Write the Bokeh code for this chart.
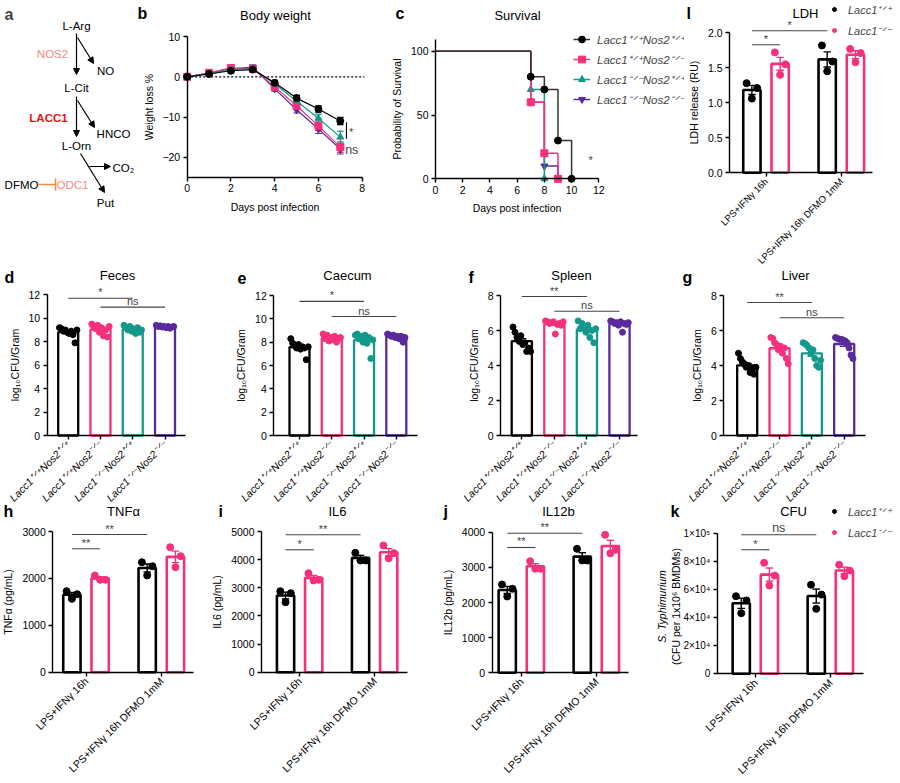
import math
import numpy as np
from bokeh.plotting import figure
from bokeh.layouts import row, column
from bokeh.models import (Range1d, FixedTicker, Label, Arrow, NormalHead, TeeHead,
                          Legend, LegendItem, NumeralTickFormatter)
from bokeh.core.properties import value
from bokeh.embed import file_html
from bokeh.resources import INLINE

# ------------------------------------------------------------------ data
SP = "\u207a\u141f\u207a"   # superscript +/+
SM = "\u207b\u141f\u207b"   # superscript -/-
genotypes = ["Lacc1" + SP + "Nos2" + SP, "Lacc1" + SP + "Nos2" + SM,
             "Lacc1" + SM + "Nos2" + SP, "Lacc1" + SM + "Nos2" + SM]
lacc1_genotypes = ["Lacc1" + SP, "Lacc1" + SM]
treatments = ["LPS+IFN\u03b3 16h", "LPS+IFN\u03b3 16h DFMO 1mM"]

# b: body weight
days = [0, 1, 2, 3, 4, 5, 6, 7]
weight_wt = [0, 0.7, 1.5, 1.8, -1.5, -5.3, -8.0, -11.0]
weight_nos2 = [0, 1.0, 2.2, 2.0, -2.5, -7.2, -12.2, -17.5]
weight_lacc1 = [0, 0.8, 1.8, 2.0, -1.8, -6.0, -10.3, -15.0]
weight_dko = [0, 0.9, 2.0, 2.4, -3.0, -8.2, -13.0, -18.0]
weight_wt_sem = [0, 0.3, 0.5, 0.5, 0.6, 0.7, 0.8, 0.9]
weight_nos2_sem = [0, 0.3, 0.5, 0.5, 0.7, 0.9, 1.2, 1.3]
weight_lacc1_sem = [0, 0.3, 0.4, 0.4, 0.6, 0.8, 1.0, 1.5]
weight_dko_sem = [0, 0.3, 0.4, 0.5, 0.6, 0.8, 1.1, 1.2]

# c: survival
surv_days_wt = [0, 7, 8, 9, 10]
surv_wt = [100, 80, 70, 30, 0]
surv_days_nos2 = [0, 7, 8, 9]
surv_nos2 = [100, 60, 20, 0]
surv_days_lacc1 = [0, 7, 8]
surv_lacc1 = [100, 70, 0]
surv_days_dko = [0, 7, 8, 9]
surv_dko = [100, 60, 10, 0]

# d-g: log10 CFU / gram
feces_wt = [9.2, 9.1, 8.9, 9.0, 8.8, 8.7, 8.9, 8.6, 7.9, 9.0]
feces_nos2 = [9.5, 9.3, 9.1, 9.4, 8.8, 9.2, 8.5, 9.0, 8.4, 9.3]
feces_lacc1 = [9.4, 9.2, 9.0, 9.3, 8.9, 9.1, 8.7, 9.2, 8.8, 9.0]
feces_dko = [9.4, 9.3, 9.35, 9.25, 9.3, 9.2, 9.3, 9.15, 9.25, 9.3]
caecum_wt = [8.3, 7.9, 7.7, 7.5, 7.8, 7.4, 7.6, 7.5, 6.5, 7.6]
caecum_nos2 = [8.7, 8.3, 8.6, 8.1, 8.4, 8.2, 8.5, 8.0, 8.3, 8.4]
caecum_lacc1 = [8.6, 8.7, 8.3, 8.5, 8.0, 8.6, 7.9, 8.4, 6.6, 8.2]
caecum_dko = [8.7, 8.6, 8.5, 8.6, 8.4, 8.5, 8.3, 8.5, 8.0, 8.4]
spleen_wt = [6.2, 5.9, 5.6, 5.4, 5.7, 5.2, 5.3, 4.8, 5.0, 4.8]
spleen_nos2 = [6.55, 6.5, 6.4, 6.45, 6.5, 5.8, 6.35, 6.4, 6.3, 6.5]
spleen_lacc1 = [6.55, 6.1, 6.4, 6.2, 5.9, 6.3, 5.6, 6.0, 5.3, 6.1]
spleen_dko = [6.55, 6.5, 6.4, 6.45, 6.3, 6.5, 5.9, 6.4, 6.35, 6.45]
liver_wt = [4.7, 4.4, 4.2, 4.1, 3.9, 4.0, 3.6, 3.8, 3.5, 3.9]
liver_nos2 = [5.6, 5.55, 5.3, 5.2, 4.9, 5.1, 4.7, 5.0, 4.4, 4.1]
liver_lacc1 = [5.3, 5.25, 5.15, 5.0, 4.7, 4.9, 4.4, 4.0, 3.9, 4.3]
liver_dko = [5.6, 5.55, 5.5, 5.5, 5.45, 5.4, 5.3, 5.0, 4.6, 4.4]

# h-l: BMDM read-outs (per treatment, 3 replicates)
tnfa_wt = [[1727, 1663, 1565], [2345, 2260, 2062]]
tnfa_ko = [[2062, 1970, 1970], [2665, 2473, 2239]]
il6_wt = [[2878, 2807, 2488], [4243, 3970, 3970]]
il6_ko = [[3518, 3283, 3259], [4503, 4230, 4050]]
il12b_wt = [[2512, 2390, 2171], [3528, 3195, 3195]]
il12b_ko = [[3175, 2959, 2959], [3926, 3500, 3400]]
cfu_wt = [[55400, 52400, 43300], [63600, 56600, 46400]]
cfu_ko = [[79300, 70200, 63100], [77900, 73800, 69700]]
ldh_wt = [[1.28, 1.21, 1.06], [1.82, 1.59, 1.45]]
ldh_ko = [[1.72, 1.55, 1.40], [1.77, 1.71, 1.58]]

# significance annotations: (group a, group b, height, text)
sig_b = ["*", "ns"]
sig_feces = [(0, 2, 11.7, "*"), (1, 3, 10.95, "ns")]
sig_caecum = [(0, 2, 11.5, "*"), (1, 3, 10.2, "ns")]
sig_spleen = [(0, 2, 7.94, "**"), (1, 3, 7.1, "ns")]
sig_liver = [(0, 2, 7.6, "**"), (1, 3, 6.73, "ns")]
sig_tnfa = [("wt0", "wt1", 2936, "**"), ("wt0", "ko0", 2631, "**")]
sig_il6 = [("wt0", "wt1", 4883, "**"), ("wt0", "ko0", 4350, "*")]
sig_il12b = [("wt0", "wt1", 3972, "**"), ("wt0", "ko0", 3565, "**")]
sig_cfu = [("wt0", "wt1", 99300, "ns"), ("wt0", "ko0", 88600, "*")]
sig_ldh = [("wt0", "wt1", 2.03, "*"), ("wt0", "ko0", 1.83, "*")]
surv_sig = (11.4, 15, "*")

cfu_tick_labels = {0: "0", 20000: "2\u00d710\u2074", 40000: "4\u00d710\u2074",
                   60000: "6\u00d710\u2074", 80000: "8\u00d710\u2074", 100000: "1\u00d710\u2075"}

# ------------------------------------------------------------------ style
FONT = "Liberation Sans"
BLACK = "#000000"
PINK = "#F5307C"
TEAL = "#13998C"
PURPLE = "#5A2A9C"
COLORS4 = [BLACK, PINK, TEAL, PURPLE]
MARKERS4 = ["circle", "square", "triangle", "inverted_triangle"]
SALMON = "#F48A82"
RED = "#EE1111"
ORANGE = "#F08C3C"
SIGC = "#444444"


def style_axis(ax):
    ax.axis_line_width = 1.4
    ax.axis_line_color = "black"
    ax.major_tick_line_width = 1.4
    ax.major_tick_line_color = "black"
    ax.major_tick_out = 4
    ax.major_tick_in = 0
    ax.minor_tick_line_color = None
    ax.major_label_text_font = FONT
    ax.major_label_text_font_size = "10.5px"
    ax.major_label_text_color = "black"
    ax.major_label_standoff = 3
    ax.axis_label_text_font = FONT
    ax.axis_label_text_font_size = "10.5px"
    ax.axis_label_text_font_style = "normal"
    ax.axis_label_text_color = "black"
    ax.axis_label_standoff = 5


def lin(pa, va, pb, vb):
    s = (vb - va) / (pb - pa)
    return lambda px: va + (px - pa) * s


class Panel:
    """A figure whose frame fills its whole box; data <-> page pixels via two anchors."""

    def __init__(self, box, xa, ya):
        L, T, W, H = box
        self.L, self.T, self.W, self.H = box
        self.xv = lin(*xa)
        self.yv = lin(*ya)
        p = figure(width=W, height=H,
                   x_range=Range1d(self.xv(L), self.xv(L + W)),
                   y_range=Range1d(self.yv(T + H), self.yv(T)),
                   output_backend="svg", toolbar_location=None, min_border=0)
        p.outline_line_color = None
        p.xgrid.visible = False
        p.ygrid.visible = False
        for ax in p.axis:
            style_axis(ax)
        self.p = p

    def axes(self, x_at, y_at, xb, yb):
        """x axis line at data y = x_at, y axis line at data x = y_at."""
        self.p.xaxis.fixed_location = x_at
        self.p.yaxis.fixed_location = y_at
        self.p.xaxis.bounds = xb
        self.p.yaxis.bounds = yb

    def label(self, px, py, text, size, style="normal", align="center", color="black",
              baseline="middle", angle=0):
        self.p.add_layout(Label(x=px - self.L, y=self.T + self.H - py, x_units="screen",
                                y_units="screen", text=text, text_font=FONT,
                                text_font_size=size, text_font_style=style,
                                text_align=align, text_color=color,
                                text_baseline=baseline, angle=angle, angle_units="deg"))

    def legend(self, items, px, py_bottom, font_size="12px", **kw):
        leg = Legend(items=items, location=(px - self.L, self.T + self.H - py_bottom),
                     orientation="vertical", label_text_font=FONT,
                     label_text_font_size=font_size, label_text_font_style="italic",
                     padding=0, margin=0, border_line_color=None,
                     background_fill_alpha=0, **kw)
        self.p.add_layout(leg)


def sig_line(p, x0, x1, y, text, size="11px"):
    p.segment(x0=[x0], y0=[y], x1=[x1], y1=[y], line_color=SIGC, line_width=1.1)
    p.add_layout(Label(x=(x0 + x1) / 2, y=y, text=text, text_align="center",
                       text_baseline="bottom", text_font=FONT, text_font_size=size))


# boxes: page-left, page-top, width, height
R1, R2, R3 = (0, 268), (268, 236), (504, 279)
B_A = (0, R1[0], 134, R1[1])
B_B = (134, R1[0], 251, R1[1])
B_C = (385, R1[0], 299, R1[1])
B_L = (684, R1[0], 216, R1[1])
B_D = (0, R2[0], 230, R2[1])
B_E = (230, R2[0], 226, R2[1])
B_F = (456, R2[0], 222, R2[1])
B_G = (678, R2[0], 222, R2[1])
B_H = (0, R3[0], 209, R3[1])
B_I = (209, R3[0], 228, R3[1])
B_J = (437, R3[0], 208, R3[1])
B_K = (645, R3[0], 255, R3[1])

# ------------------------------------------------------------------ panel a
pa = figure(width=B_A[2], height=B_A[3], x_range=Range1d(0, B_A[2]), y_range=Range1d(B_A[3], 0),
            output_backend="svg", toolbar_location=None, x_axis_location=None,
            y_axis_location=None, min_border=0)
pa.outline_line_color = None
pa.grid.visible = False
TXT = dict(text_font=value(FONT), text_font_size="11.5px", text_baseline="middle")
pa.text(x=[76, 76, 76], y=[25, 87, 145], text=["L-Arg", "L-Cit", "L-Orn"], text_align="center", **TXT)
pa.text(x=[105, 113, 105, 21], y=[70, 133, 202, 184], text=["NO", "HNCO", "Put", "DFMO"],
        text_align="center", **TXT)
pa.text(x=[112], y=[167], text=["CO\u2082"], text_align="left", **TXT)
pa.text(x=[52, 72], y=[53, 184], text=["NOS2", "ODC1"], text_color=SALMON, text_align="center", **TXT)
pa.text(x=[48], y=[117], text=["LACC1"], text_color=RED, text_font_style="bold",
        text_align="center", **TXT)
for (xs, ys, xe, ye) in [(76, 33, 76, 74), (77, 37, 93, 63), (76, 96, 76, 136),
                         (77, 100, 94, 127), (80, 153, 104, 192), (89, 166, 110, 166)]:
    pa.add_layout(Arrow(end=NormalHead(size=6, fill_color="black", line_color="black"),
                        x_start=xs, y_start=ys, x_end=xe, y_end=ye,
                        line_color="black", line_width=1.2))
pa.add_layout(Arrow(end=TeeHead(size=12, line_color=ORANGE, line_width=1.6),
                    x_start=38, y_start=184, x_end=55, y_end=184,
                    line_color=ORANGE, line_width=1.6))
pa.add_layout(Label(x=4, y=14, text="a", text_font=FONT, text_font_size="16px",
                    text_font_style="bold", text_baseline="middle"))

# ------------------------------------------------------------------ panel b
PB = Panel(B_B, (186.7, 0, 361.7, 8), (76.3, 0, 156.7, -20))
pb = PB.p
PB.axes(-25, 0, (0, 8), (-25, 10))
pb.xaxis.ticker = FixedTicker(ticks=[0, 2, 4, 6, 8])
pb.yaxis.ticker = FixedTicker(ticks=[-20, -10, 0, 10])
pb.xaxis.axis_label = "Days post infection"
pb.yaxis.axis_label = "Weight loss %"
pb.segment(x0=[0], y0=[0], x1=[8.1], y1=[0], line_dash="2 2", line_color="black", line_width=1.2)
series_b = [(weight_wt, weight_wt_sem), (weight_nos2, weight_nos2_sem),
            (weight_lacc1, weight_lacc1_sem), (weight_dko, weight_dko_sem)]
d_arr = np.array(days, dtype=float)
for k, (vals, sems) in enumerate(series_b):
    v = np.array(vals, dtype=float)
    s = np.array(sems, dtype=float)
    c = COLORS4[k]
    pb.segment(x0=d_arr, y0=v - s, x1=d_arr, y1=v + s, line_color=c, line_width=1.2)
    pb.segment(x0=d_arr - 0.15, y0=v + s, x1=d_arr + 0.15, y1=v + s, line_color=c, line_width=1.2)
    pb.segment(x0=d_arr - 0.15, y0=v - s, x1=d_arr + 0.15, y1=v - s, line_color=c, line_width=1.2)
for k in [3, 1, 2, 0]:
    vals = series_b[k][0]
    c = COLORS4[k]
    pb.line(days, vals, line_color=c, line_width=1.2)
    pb.scatter(days, vals, marker=MARKERS4[k], size=7, fill_color=c, line_color=c)
xb = days[-1] + 0.28
pb.segment(x0=[xb], y0=[weight_wt[-1] - 0.3], x1=[xb], y1=[weight_lacc1[-1] - 0.4],
           line_color="black", line_width=1.1)
pb.add_layout(Label(x=xb + 0.12, y=(weight_wt[-1] + weight_lacc1[-1]) / 2 - 0.8, text=sig_b[0],
                    text_font=FONT, text_font_size="11px", text_baseline="middle"))
pb.add_layout(Label(x=xb - 0.06, y=(weight_nos2[-1] + weight_dko[-1]) / 2 - 0.5, text=sig_b[1],
                    text_font=FONT, text_font_size="12.5px", text_baseline="middle"))
PB.label(275, 15, "Body weight", "13px")
PB.label(137, 13, "b", "16px", style="bold", align="left")

# ------------------------------------------------------------------ panel c
PC = Panel(B_C, (435, 0, 598.3, 12), (178.3, 0, 50.7, 100))
pc = PC.p
PC.axes(0, 0, (0, 12), (0, 109))
pc.xaxis.ticker = FixedTicker(ticks=[0, 2, 4, 6, 8, 10, 12])
pc.yaxis.ticker = FixedTicker(ticks=[0, 50, 100])
pc.xaxis.axis_label = "Days post infection"
pc.yaxis.axis_label = "Probability of Survival"
surv = [(surv_days_wt, surv_wt), (surv_days_nos2, surv_nos2),
        (surv_days_lacc1, surv_lacc1), (surv_days_dko, surv_dko)]
rends = {}
for k in [3, 2, 1, 0]:
    sx, sy = surv[k]
    c = COLORS4[k]
    r1 = pc.step(sx, sy, mode="after", line_color=c if k else "#333333", line_width=1.5)
    r2 = pc.scatter(sx[1:], sy[1:], marker=MARKERS4[k], size=7, fill_color=c, line_color=c)
    rends[k] = (r1, r2)
PC.legend([LegendItem(label=genotypes[k], renderers=list(rends[k])) for k in range(4)],
          573, 109, font_size="11.5px", glyph_width=17, glyph_height=20, label_height=20,
          label_standoff=7, spacing=0)
pc.add_layout(Label(x=surv_sig[0], y=surv_sig[1], text=surv_sig[2], text_font=FONT,
                    text_font_size="11px", text_align="center", text_baseline="middle"))
PC.label(517, 15, "Survival", "13px")
PC.label(395, 13, "c", "16px", style="bold", align="left")


# ------------------------------------------------------------------ panels d-g
def group_panel(box, xa, ya, yaxis_px, xend_px, groups, ymax, ystep, sigs,
                title, title_xy, letter, letter_xy):
    P = Panel(box, xa, ya)
    p = P.p
    P.axes(0, P.xv(yaxis_px), (P.xv(yaxis_px), P.xv(xend_px)), (0, ymax))
    xs = np.arange(4, dtype=float)
    means = np.array([np.mean(g) for g in groups])
    sems = np.array([np.std(g, ddof=1) / np.sqrt(len(g)) for g in groups])
    p.vbar(x=xs, top=means, width=0.62, bottom=0, fill_color="white",
           line_color=COLORS4, line_width=2.3)
    for i, g in enumerate(groups):
        offs = np.linspace(-0.27, 0.27, len(g))
        p.scatter(x=i + offs, y=g, size=6, fill_color=COLORS4[i], line_color=COLORS4[i])
    p.segment(x0=xs, y0=means - sems, x1=xs, y1=means + sems, line_color=COLORS4, line_width=1.4)
    p.segment(x0=xs - 0.14, y0=means + sems, x1=xs + 0.14, y1=means + sems,
              line_color=COLORS4, line_width=1.4)
    p.segment(x0=xs - 0.14, y0=means - sems, x1=xs + 0.14, y1=means - sems,
              line_color=COLORS4, line_width=1.4)
    for (a, b, y, t) in sigs:
        sig_line(p, a, b, y, t)
    p.xaxis.ticker = FixedTicker(ticks=[0, 1, 2, 3])
    p.xaxis.major_label_overrides = {i: genotypes[i] for i in range(4)}
    p.xaxis.major_label_orientation = math.pi / 4
    p.xaxis.major_label_text_font_style = "italic"
    p.xaxis.major_label_text_font_size = "10.5px"
    p.yaxis.ticker = FixedTicker(ticks=list(range(0, ymax + 1, ystep)))
    p.yaxis.axis_label = "log\u2081\u2080CFU/Gram"
    P.label(title_xy[0], title_xy[1], title, "13px")
    P.label(letter_xy[0], letter_xy[1], letter, "16px", style="bold", align="left")
    return p


pd_ = group_panel(B_D, (67.7, 0, 164.5, 3), (435, 0, 294.3, 12), 46.7, 185,
                  [feces_wt, feces_nos2, feces_lacc1, feces_dko], 12, 2, sig_feces,
                  "Feces", (117, 275), "d", (4, 277))
pe = group_panel(B_E, (299, 0, 395.8, 3), (435, 0, 295, 12), 273.3, 416.7,
                 [caecum_wt, caecum_nos2, caecum_lacc1, caecum_dko], 12, 2, sig_caecum,
                 "Caecum", (347, 275), "e", (237, 277))
pf = group_panel(B_F, (521.3, 0, 619, 3), (435, 0, 295, 8), 500, 636.7,
                 [spleen_wt, spleen_nos2, spleen_lacc1, spleen_dko], 8, 2, sig_spleen,
                 "Spleen", (571, 275), "f", (468, 277))
pg = group_panel(B_G, (746.7, 0, 843.7, 3), (435, 0, 295, 8), 723.3, 865,
                 [liver_wt, liver_nos2, liver_lacc1, liver_dko], 8, 2, sig_liver,
                 "Liver", (795, 275), "g", (682, 277))


# ------------------------------------------------------------------ panels h-l
def treat_panel(box, xa, ya, yaxis_px, xend_px, ymax, ystep, wt, ko, sigs, ylabel,
                title, title_xy, letter, letter_xy, tick_size="10.5px"):
    P = Panel(box, xa, ya)
    p = P.p
    P.axes(0, P.xv(yaxis_px), (P.xv(yaxis_px), P.xv(xend_px)), (0, ymax))
    pos = {}
    point_rends = []
    for name, pts, color, off in [("wt", wt, BLACK, -0.19), ("ko", ko, PINK, 0.185)]:
        xs = np.arange(len(pts), dtype=float) + off
        means = np.array([np.mean(v) for v in pts])
        sems = np.array([np.std(v, ddof=1) / np.sqrt(len(v)) for v in pts])
        for i in range(len(pts)):
            pos[name + str(i)] = xs[i]
        p.vbar(x=xs, top=means, width=0.23, bottom=0, fill_color="white",
               line_color=color, line_width=2.6)
        p.segment(x0=xs, y0=means - sems, x1=xs, y1=means + sems, line_color=color, line_width=1.4)
        p.segment(x0=xs - 0.05, y0=means + sems, x1=xs + 0.05, y1=means + sems,
                  line_color=color, line_width=1.4)
        p.segment(x0=xs - 0.05, y0=means - sems, x1=xs + 0.05, y1=means - sems,
                  line_color=color, line_width=1.4)
        r = None
        for i, v in enumerate(pts):
            rr = p.scatter(x=xs[i] + np.array([-0.07, 0.07, 0.0]), y=v, size=7,
                           fill_color=color, line_color=color)
            r = r or rr
        point_rends.append(r)
    for (a, b, y, t) in sigs:
        sig_line(p, pos[a], pos[b], y, t, size="12.5px" if t == "ns" else "11px")
    p.xaxis.ticker = FixedTicker(ticks=[0, 1])
    p.xaxis.major_label_overrides = {i: treatments[i] for i in range(2)}
    p.xaxis.major_label_orientation = math.pi / 4
    p.xaxis.major_label_text_font_size = tick_size
    p.yaxis.ticker = FixedTicker(ticks=list(np.arange(0, ymax + ystep / 2, ystep)))
    if ylabel:
        p.yaxis.axis_label = ylabel
    P.label(title_xy[0], title_xy[1], title, "13px")
    P.label(letter_xy[0], letter_xy[1], letter, "16px", style="bold", align="left")
    return P, point_rends


LEG2 = dict(font_size="11px", glyph_width=10, glyph_height=18, label_height=18,
            label_standoff=9, spacing=3)

PL, rl = treat_panel(B_L, (765.7, 0, 841, 1), (172.3, 0, 32.3, 2), 729, 872, 2.0, 0.5,
                     ldh_wt, ldh_ko, sig_ldh, "LDH release (RU)", "LDH", (805, 13),
                     "l", (686, 13), tick_size="9.5px")
PL.p.yaxis.formatter = NumeralTickFormatter(format="0.0")
PL.legend([LegendItem(label=lacc1_genotypes[0], renderers=[rl[0]]),
           LegendItem(label=lacc1_genotypes[1], renderers=[rl[1]])], 829, 39, **LEG2)

PH, _ = treat_panel(B_H, (85.7, 0, 161, 1), (671.7, 0, 531, 3000), 52.3, 193.3, 3000, 1000,
                    tnfa_wt, tnfa_ko, sig_tnfa, "TNF\u03b1 (pg/mL)", "TNF\u03b1", (123, 511),
                    "h", (3, 511))
PI, _ = treat_panel(B_I, (299.3, 0, 374.3, 1), (671.7, 0, 531, 5000), 261, 406.7, 5000, 1000,
                    il6_wt, il6_ko, sig_il6, "IL6 (pg/mL)", "IL6", (337, 511), "i", (218, 511))
PJ, _ = treat_panel(B_J, (521, 0, 596, 1), (672.3, 0, 531.7, 4000), 491.7, 628.3, 4000, 1000,
                    il12b_wt, il12b_ko, sig_il12b, "IL12b (pg/mL)", "IL12b", (558, 511),
                    "j", (443, 511))
PK, rk = treat_panel(B_K, (755, 0, 830, 1), (673.3, 0, 533.3, 100000), 716.7, 863, 100000, 20000,
                     cfu_wt, cfu_ko, sig_cfu, None, "CFU", (793, 511), "k", (670, 511))
PK.p.yaxis.major_label_overrides = cfu_tick_labels
PK.p.yaxis.major_label_text_font_size = "10px"
PK.label(661, 606, "S. Typhimurium", "10.5px", style="italic", angle=90)
PK.label(675, 606, "(CFU per 1x10\u2076 BMDMs)", "10.5px", angle=90)
PK.legend([LegendItem(label=lacc1_genotypes[0], renderers=[rk[0]]),
           LegendItem(label=lacc1_genotypes[1], renderers=[rk[1]])], 829, 541, **LEG2)

layout = column(row(pa, pb, pc, PL.p), row(pd_, pe, pf, pg), row(PH.p, PI.p, PJ.p, PK.p))
open("out.html", "w").write(file_html(layout, INLINE, title="Lacc1 figure"))
